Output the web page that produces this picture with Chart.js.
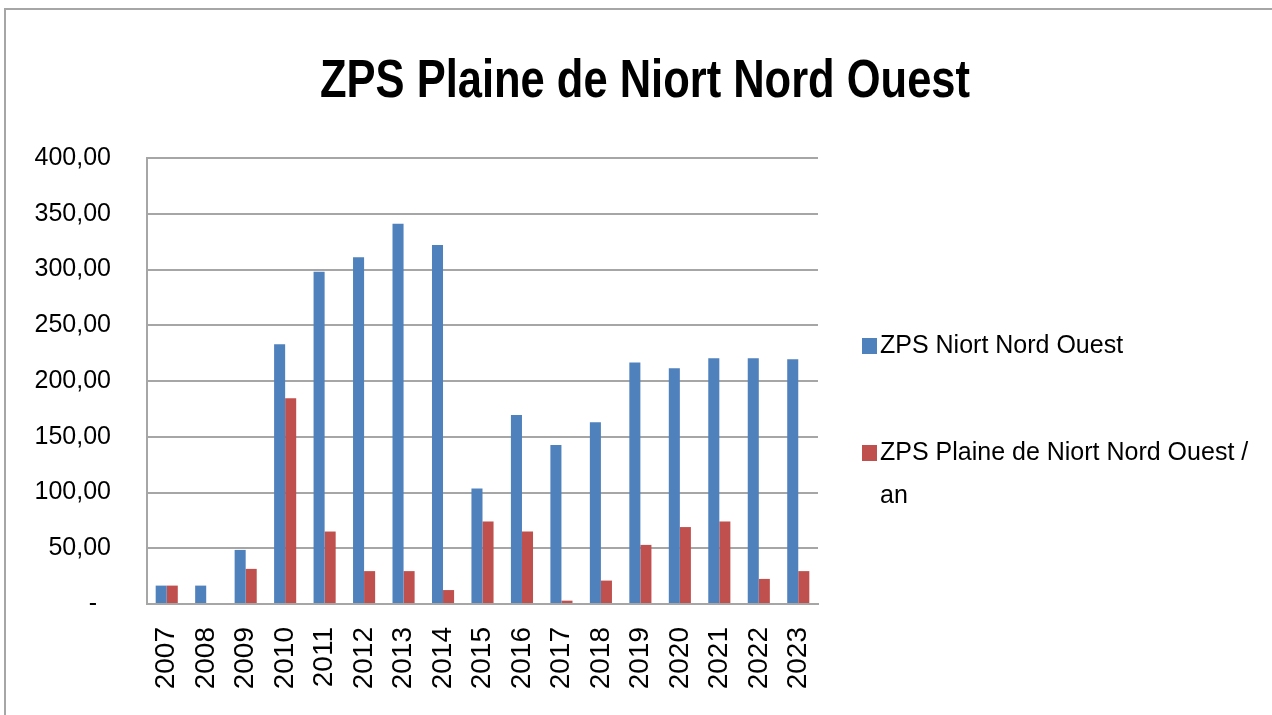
<!DOCTYPE html>
<html>
<head>
<meta charset="utf-8">
<script src="https://cdn.jsdelivr.net/npm/chart.js@4"></script>
<style>
  html, body { margin: 0; padding: 0; background: #fff; }
  #wrap { position: relative; width: 1272px; height: 715px; }
</style>
</head>
<body>
<div id="wrap"><canvas id="chart" width="1272" height="715"></canvas></div>
<script>
const years = ['2007', '2008', '2009', '2010', '2011', '2012', '2013', '2014', '2015',
    '2016', '2017', '2018', '2019', '2020', '2021', '2022', '2023'];
const zpsNiort = [16.5, 16.5, 48.5, 233, 298, 311, 341, 322, 103.5,
    169.5, 142.5, 163, 216.5, 211.5, 220.5, 220.5, 219.5];
const zpsPlaineAn = [16.5, 0, 31.5, 184.5, 65, 29.5, 29.5, 12.5, 74,
    65, 3, 21, 53, 69, 74, 22.5, 29.5];
const seriesNames = ['ZPS Niort Nord Ouest', 'ZPS Plaine de Niort Nord Ouest / an'];
const yTickLabels = ['-  ', '50,00', '100,00', '150,00', '200,00', '250,00', '300,00', '350,00', '400,00'];
const chartTitle = 'ZPS Plaine de Niort Nord Ouest';

const FONT = '"Liberation Sans", Arial, sans-serif';

// title, frame and legend are painted by hand (legend sits right of the plot)
const decor = {
    id: 'decor',
    beforeDraw(chart) {
        const c = chart.ctx;
        c.save();
        c.strokeStyle = '#a6a6a6';
        c.lineWidth = 2;
        c.beginPath();
        c.moveTo(5, 715);
        c.lineTo(5, 9);
        c.lineTo(1272, 9);
        c.stroke();
        c.restore();
    },
    afterDraw(chart) {
        const c = chart.ctx;
        c.save();
        c.fillStyle = '#000';
        c.font = 'bold 54px ' + FONT;
        c.textAlign = 'center';
        c.textBaseline = 'alphabetic';
        // squeeze the title horizontally, the original font is a narrow one
        c.translate(645, 97);
        c.scale(650 / c.measureText(chartTitle).width, 1);
        c.fillText(chartTitle, 0, 0);
        c.restore();

        c.save();
        c.font = '25px ' + FONT;
        c.textAlign = 'left';
        c.textBaseline = 'middle';
        const tops = [346, 453];
        chart.data.datasets.forEach((ds, i) => {
            // wrap long labels
            const words = ds.label.split(' ');
            const lines = [];
            let cur = '';
            words.forEach(w => {
                const t = cur ? cur + ' ' + w : w;
                if (c.measureText(t).width > 380 && cur) {
                    lines.push(cur);
                    cur = w;
                } else {
                    cur = t;
                }
            });
            lines.push(cur);
            const y = tops[i];
            c.fillStyle = ds.backgroundColor;
            c.fillRect(862, y - 8, 15, 16);
            c.fillStyle = '#000';
            lines.forEach((ln, k) => c.fillText(ln, 880, y + k * 43));
        });
        c.restore();
    }
};

new Chart(document.getElementById('chart'), {
    type: 'bar',
    data: {
        labels: years,
        datasets: [
            {
                label: seriesNames[0],
                data: zpsNiort,
                backgroundColor: '#4F81BD',
                barPercentage: 1,
                categoryPercentage: 0.56
            },
            {
                label: seriesNames[1],
                data: zpsPlaineAn,
                backgroundColor: '#C0504D',
                barPercentage: 1,
                categoryPercentage: 0.56
            }
        ]
    },
    options: {
        responsive: false,
        animation: false,
        layout: { padding: { left: 0, top: 158, right: 454, bottom: 0 } },
        plugins: {
            legend: { display: false },
            title: { display: false },
            tooltip: { enabled: false }
        },
        scales: {
            x: {
                afterFit: s => { s.height = 111; },
                grid: { display: false, drawTicks: false },
                border: { display: true, color: '#a6a6a6', width: 2 },
                ticks: {
                    minRotation: 90,
                    maxRotation: 90,
                    padding: 23,
                    color: '#000',
                    font: { family: FONT, size: 28 }
                }
            },
            y: {
                min: 0,
                max: 400,
                afterFit: s => { s.width = 147; },
                grid: { color: '#a6a6a6', lineWidth: 2, drawTicks: false },
                border: { display: true, color: '#a6a6a6', width: 2 },
                ticks: {
                    stepSize: 50,
                    padding: 36,
                    color: '#000',
                    font: { family: FONT, size: 25 },
                    callback: (v) => yTickLabels[Math.round(v / 50)]
                }
            }
        }
    },
    plugins: [decor]
});
</script>
</body>
</html>
